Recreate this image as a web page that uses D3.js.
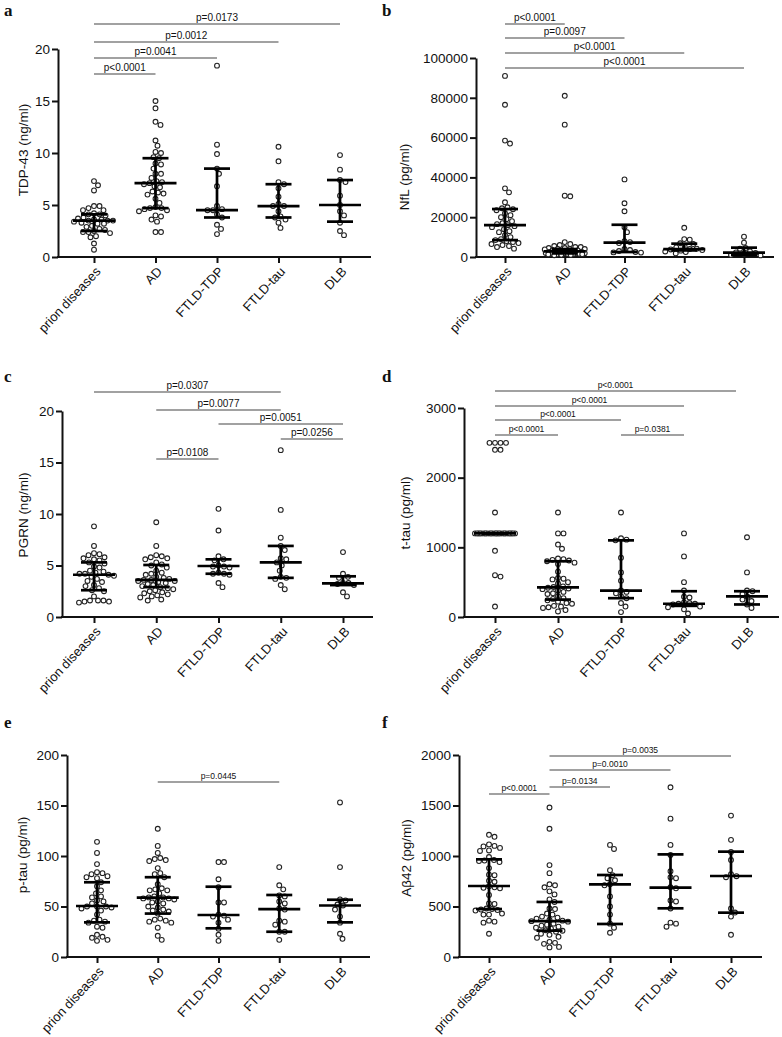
<!DOCTYPE html>
<html>
<head>
<meta charset="utf-8">
<script src="https://cdn.jsdelivr.net/npm/d3@7"></script>
<style>
  body { margin: 0; background: #fff; }
  svg { display: block; }
  text { font-family: "Liberation Sans", Arial, sans-serif; fill: #111; }
</style>
</head>
<body>
<svg id="chart" width="782" height="1037"></svg>
<script>
// categories shared by all six panels
var categories = ["prion diseases", "AD", "FTLD-TDP", "FTLD-tau", "DLB"];

// a - TDP-43 (ng/ml)
var tdp43 = [
    [7.3, 6.9, 6.4, 4.9, 4.9, 4.7, 4.5, 4.5, 4.2, 4.1, 4.1, 4.0, 3.8, 3.7, 3.6, 3.6, 3.5, 3.5, 3.5, 3.4, 3.3, 3.2, 3.2, 3.0, 2.9, 2.7, 2.6, 2.5, 2.4, 2.4, 2.3, 2.0, 1.9, 1.3, 0.7],
    [15.0, 14.3, 13.0, 12.7, 11.2, 10.7, 10.1, 10.0, 9.6, 9.5, 9.0, 8.9, 8.5, 8.0, 8.0, 7.6, 7.3, 7.2, 7.1, 7.0, 6.8, 6.7, 6.3, 6.2, 6.1, 6.0, 5.6, 5.2, 4.8, 4.7, 4.7, 4.6, 4.5, 4.4, 4.0, 3.9, 3.6, 3.4, 2.4, 2.4],
    [18.4, 10.8, 9.9, 8.5, 8.0, 6.8, 4.9, 4.6, 4.5, 4.5, 4.1, 3.8, 3.1, 2.7, 2.2],
    [10.6, 9.2, 7.2, 7.0, 6.6, 5.8, 5.1, 4.9, 4.9, 4.4, 3.9, 3.8, 3.6, 3.3, 2.8],
    [9.8, 8.4, 7.4, 7.2, 5.9, 5.0, 4.4, 4.0, 3.3, 2.5, 2.1]
];
var tdp43Median = [3.5, 7.1, 4.5, 4.9, 5.0];
var tdp43Q1 = [2.5, 4.7, 3.8, 3.8, 3.4];
var tdp43Q3 = [4.1, 9.5, 8.5, 7.0, 7.4];
var tdp43Ticks = [0, 5, 10, 15, 20];
var tdp43Pairs = [[0, 1], [0, 2], [0, 3], [0, 4]];
var tdp43PLabels = ["p<0.0001", "p=0.0041", "p=0.0012", "p=0.0173"];

// b - NfL (pg/ml)
var nfl = [
    [91000, 76500, 58500, 57000, 34500, 32500, 27500, 25000, 24500, 24000, 23500, 22000, 21000, 20000, 19000, 18000, 17000, 16500, 16000, 15500, 15000, 14000, 13000, 12500, 11000, 10000, 9000, 8500, 8000, 7500, 7000, 6500, 6000, 5500, 5000, 4200],
    [81000, 66500, 30500, 30800, 7500, 6500, 6000, 5500, 5000, 5000, 4500, 4500, 4000, 4000, 4000, 3800, 3500, 3300, 3200, 3000, 2800, 2600, 2500, 2400, 2200, 2000, 2000, 1900, 1800, 1800, 1700, 1600, 1500, 1500, 1400, 1300, 1200, 1100, 1000, 900],
    [39000, 27000, 23000, 15000, 12500, 8000, 7500, 7000, 4000, 3500, 3000, 2500, 2300, 2200],
    [14700, 9000, 8700, 6900, 6500, 5200, 4800, 4200, 4000, 3800, 3500, 3200, 2800, 2500, 1800],
    [10200, 7200, 4500, 4200, 2800, 2300, 2000, 1500, 1000, 800]
];
var nflMedian = [16000, 2800, 7200, 4000, 2200];
var nflQ1 = [8500, 1800, 2500, 3300, 1000];
var nflQ3 = [24100, 4000, 16200, 6700, 4700];
var nflTicks = [0, 20000, 40000, 60000, 80000, 100000];
var nflPairs = [[0, 1], [0, 2], [0, 3], [0, 4]];
var nflPLabels = ["p<0.0001", "p=0.0097", "p<0.0001", "p<0.0001"];

// c - PGRN (ng/ml)
var pgrn = [
    [8.8, 6.9, 6.2, 6.1, 6.0, 5.8, 5.7, 5.6, 5.5, 5.3, 5.2, 4.9, 4.8, 4.5, 4.4, 4.3, 4.2, 4.2, 4.1, 4.0, 3.9, 3.7, 3.5, 3.4, 3.1, 3.0, 2.8, 2.6, 2.5, 2.0, 1.6, 1.6, 1.6, 1.5, 1.5, 1.4],
    [9.2, 6.9, 6.0, 5.9, 5.8, 5.7, 5.6, 5.3, 5.1, 5.0, 4.8, 4.5, 4.3, 4.2, 4.1, 3.9, 3.8, 3.7, 3.6, 3.6, 3.5, 3.5, 3.4, 3.3, 3.2, 3.1, 3.0, 2.9, 2.8, 2.7, 2.6, 2.5, 2.4, 2.3, 2.2, 2.1, 2.0, 1.9, 1.7, 1.6],
    [10.5, 8.4, 5.9, 5.6, 5.5, 5.0, 4.9, 4.9, 4.8, 4.3, 4.2, 4.2, 4.1, 3.3, 2.9],
    [16.2, 10.4, 7.7, 6.9, 6.5, 5.7, 5.6, 5.3, 5.0, 4.5, 3.9, 3.8, 3.7, 3.1, 2.7],
    [6.3, 4.2, 3.9, 3.8, 3.3, 3.3, 3.2, 3.1, 2.4, 2.0]
];
var pgrnMedian = [4.1, 3.6, 4.95, 5.3, 3.27];
var pgrnQ1 = [2.6, 2.9, 4.2, 3.8, 3.1];
var pgrnQ3 = [5.3, 5.05, 5.6, 6.9, 3.95];
var pgrnTicks = [0, 5, 10, 15, 20];
var pgrnPairs = [[0, 3], [1, 3], [2, 4], [3, 4], [1, 2]];
var pgrnPLabels = ["p=0.0307", "p=0.0077", "p=0.0051", "p=0.0256", "p=0.0108"];

// d - t-tau (pg/ml)
var ttau = [
    [2500, 2500, 2500, 2500, 2400, 2400, 1500, 1200, 1200, 1200, 1200, 1200, 1200, 1200, 1200, 1200, 1200, 1200, 1200, 1200, 1200, 1200, 1200, 1200, 1200, 1200, 1200, 1200, 1200, 1200, 1200, 950, 600, 580, 150],
    [1500, 1200, 1200, 1040, 980, 840, 830, 820, 810, 800, 780, 760, 650, 560, 550, 540, 500, 480, 440, 430, 420, 410, 400, 380, 360, 340, 330, 300, 270, 260, 240, 220, 200, 190, 160, 150, 140, 130, 100, 80],
    [1500, 1130, 1110, 1100, 850, 640, 520, 380, 360, 340, 300, 270, 200, 150, 70],
    [1200, 870, 500, 380, 290, 280, 210, 200, 190, 190, 180, 150, 140, 110, 50],
    [1145, 640, 380, 370, 330, 290, 250, 230, 180, 130]
];
var ttauMedian = [1200, 425, 380, 190, 295];
var ttauQ1 = [1200, 250, 270, 160, 180];
var ttauQ3 = [1200, 800, 1100, 370, 370];
var ttauTicks = [0, 1000, 2000, 3000];
var ttauPairs = [[0, 4], [0, 3], [0, 2], [0, 1], [2, 3]];
var ttauPLabels = ["p<0.0001", "p<0.0001", "p<0.0001", "p<0.0001", "p=0.0381"];

// e - p-tau (pg/ml)
var ptau = [
    [114, 103, 92, 84, 83, 82, 80, 79, 78, 74, 70, 66, 63, 60, 59, 56, 55, 53, 50, 50, 50, 49, 48, 46, 42, 37, 36, 35, 34, 30, 29, 22, 20, 19, 17, 16],
    [127, 110, 103, 98, 97, 96, 95, 88, 83, 82, 79, 72, 68, 67, 66, 66, 63, 60, 59, 59, 58, 58, 57, 55, 54, 53, 50, 49, 47, 46, 45, 43, 38, 37, 36, 35, 34, 29, 21, 17],
    [94, 94, 77, 69, 54, 54, 42, 41, 40, 37, 34, 28, 22, 16],
    [89, 71, 67, 61, 60, 55, 53, 48, 47, 36, 35, 32, 25, 25, 17],
    [153, 89, 57, 56, 52, 51, 47, 40, 34, 23, 18]
];
var ptauMedian = [50.5, 58.7, 41.6, 47.5, 51];
var ptauQ1 = [34.3, 43, 28.4, 25, 34.3];
var ptauQ3 = [74, 79, 69.6, 61.4, 56.7];
var ptauTicks = [0, 50, 100, 150, 200];
var ptauPairs = [[1, 3]];
var ptauPLabels = ["p=0.0445"];

// f - Abeta42 (pg/ml)
var ab42 = [
    [1210, 1190, 1115, 1100, 1095, 1080, 1055, 1050, 990, 960, 955, 950, 940, 880, 815, 810, 755, 745, 700, 690, 685, 680, 615, 530, 525, 480, 475, 470, 465, 460, 430, 420, 420, 360, 350, 340, 230],
    [1480, 1270, 910, 830, 720, 710, 690, 650, 620, 570, 545, 480, 475, 430, 420, 400, 390, 380, 370, 360, 355, 350, 330, 320, 310, 300, 290, 280, 265, 260, 250, 230, 220, 200, 190, 150, 140, 130, 100, 95],
    [1110, 1070, 860, 810, 780, 760, 720, 710, 600, 500, 420, 330, 290, 240],
    [1680, 1370, 1110, 1010, 850, 790, 780, 690, 680, 560, 550, 480, 340, 330, 300],
    [1400, 1160, 1040, 960, 820, 800, 790, 480, 440, 400, 220]
];
var ab42Median = [703, 356, 719, 686, 802];
var ab42Q1 = [475, 261, 327, 482, 439];
var ab42Q3 = [967, 545, 812, 1016, 1043];
var ab42Ticks = [0, 500, 1000, 1500, 2000];
var ab42Pairs = [[0, 1], [1, 2], [1, 3], [1, 4]];
var ab42PLabels = ["p<0.0001", "p=0.0134", "p=0.0010", "p=0.0035"];

// layout of the six panels (pixels); pend trims a bracket's right end
var panels = [
    { letter: "a", lx: 4, ly: 16, left: 58, right: 371, top: 49, bottom: 257, cat: [94, 340],
      title: "TDP-43 (ng/ml)", tx: 23, ty: 150, values: tdp43, med: tdp43Median, q1: tdp43Q1, q3: tdp43Q3,
      ticks: tdp43Ticks, pairs: tdp43Pairs, plabels: tdp43PLabels, py: [74, 58, 42, 24], pend: [0, 0, 0, 0], pfont: 10 },
    { letter: "b", lx: 382, ly: 16, left: 476, right: 774, top: 58, bottom: 257, cat: [505, 744],
      title: "NfL (pg/ml)", tx: 404, ty: 177, values: nfl, med: nflMedian, q1: nflQ1, q3: nflQ3,
      ticks: nflTicks, pairs: nflPairs, plabels: nflPLabels, py: [24, 38, 53, 68], pend: [0, 0, 0, 0], pfont: 10 },
    { letter: "c", lx: 4, ly: 382, left: 62, right: 373, top: 411, bottom: 617, cat: [94, 343],
      title: "PGRN (ng/ml)", tx: 23, ty: 515, values: pgrn, med: pgrnMedian, q1: pgrnQ1, q3: pgrnQ3,
      ticks: pgrnTicks, pairs: pgrnPairs, plabels: pgrnPLabels, py: [392, 410, 424, 439, 459], pend: [0, 0, 0, 0, 0], pfont: 10 },
    { letter: "d", lx: 382, ly: 382, left: 464, right: 779, top: 408, bottom: 617, cat: [495, 747],
      title: "t-tau (pg/ml)", tx: 405, ty: 513, values: ttau, med: ttauMedian, q1: ttauQ1, q3: ttauQ3,
      ticks: ttauTicks, pairs: ttauPairs, plabels: ttauPLabels, py: [391, 406, 420, 435, 435], pend: [11, 0, 0, 0, 0], pfont: 8.5 },
    { letter: "e", lx: 4, ly: 728, left: 67, right: 370, top: 755, bottom: 957, cat: [97, 340],
      title: "p-tau (pg/ml)", tx: 22, ty: 855, values: ptau, med: ptauMedian, q1: ptauQ1, q3: ptauQ3,
      ticks: ptauTicks, pairs: ptauPairs, plabels: ptauPLabels, py: [782], pend: [0], pfont: 8.5 },
    { letter: "f", lx: 382, ly: 728, left: 459, right: 762, top: 755, bottom: 957, cat: [489, 731],
      title: "A\u03B242 (pg/ml)", tx: 406, ty: 858, values: ab42, med: ab42Median, q1: ab42Q1, q3: ab42Q3,
      ticks: ab42Ticks, pairs: ab42Pairs, plabels: ab42PLabels, py: [794, 787, 770, 756], pend: [0, 0, 0, 0], pfont: 8.5 }
];

var dotR = 2.4,
    dotGap = 5.5,
    swarmHalf = 20,
    medHalf = 21,
    capHalf = 13;

// deterministic beeswarm: each dot takes the free offset closest to the centre
function swarm(ys) {
    var order = ys.map(function (d, i) { return i; }).sort(function (a, b) { return ys[a] - ys[b]; });
    var placed = [], xs = new Array(ys.length);
    var cands = [0];
    for (var s = 0.5; s <= swarmHalf; s += 0.5) { cands.push(s, -s); }
    order.forEach(function (i) {
        var y = ys[i];
        var near = placed.filter(function (p) { return Math.abs(p.y - y) < dotGap; });
        var best = 0, bestScore = -1;
        for (var k = 0; k < cands.length; k++) {
            var cx = cands[k], m = Infinity;
            near.forEach(function (p) { m = Math.min(m, Math.hypot(p.x - cx, p.y - y)); });
            if (m >= dotGap) { best = cx; break; }
            if (m > bestScore) { bestScore = m; best = cx; }
        }
        xs[i] = best;
        placed.push({ x: best, y: y });
    });
    return xs;
}

var svg = d3.select("#chart");
svg.append("rect").attr("width", 782).attr("height", 1037).attr("fill", "#fff");

panels.forEach(function (p) {
    var g = svg.append("g");
    var x = d3.scalePoint().domain(categories).range(p.cat);
    var y = d3.scaleLinear().domain([0, p.ticks[p.ticks.length - 1]]).range([p.bottom, p.top]);

    // panel letter
    g.append("text")
        .attr("x", p.lx).attr("y", p.ly)
        .style("font-family", "'Liberation Serif', 'Times New Roman', serif")
        .style("font-weight", "bold")
        .style("font-size", "17px")
        .text(p.letter);

    // y axis
    var ya = g.append("g")
        .attr("transform", "translate(" + p.left + ",0)")
        .call(d3.axisLeft(y).tickValues(p.ticks).tickSize(6).tickSizeOuter(0).tickPadding(2).tickFormat(d3.format("d")));
    ya.select(".domain").attr("stroke", "#111").attr("stroke-width", 2);
    ya.selectAll(".tick line").attr("stroke", "#111").attr("stroke-width", 2);
    ya.selectAll(".tick text").style("font-size", "13.5px").attr("fill", "#111");

    // y title
    g.append("text")
        .attr("transform", "translate(" + p.tx + "," + p.ty + ") rotate(-90)")
        .attr("text-anchor", "middle")
        .attr("dy", "0.35em")
        .style("font-size", "13.5px")
        .text(p.title);

    // x axis
    g.append("line")
        .attr("x1", p.left - 1).attr("x2", p.right)
        .attr("y1", p.bottom).attr("y2", p.bottom)
        .attr("stroke", "#111").attr("stroke-width", 2);
    var xa = g.append("g")
        .attr("transform", "translate(0," + p.bottom + ")")
        .call(d3.axisBottom(x).tickSize(6).tickSizeOuter(0).tickFormat(""));
    xa.select(".domain").remove();
    xa.selectAll(".tick line").attr("stroke", "#111").attr("stroke-width", 2);

    g.selectAll(".xlab")
        .data(categories)
        .enter()
        .append("text")
        .attr("transform", function (d) {
            return "translate(" + (x(d) + 4) + "," + (p.bottom + 12) + ") rotate(-47)";
        })
        .attr("text-anchor", "end")
        .attr("dy", "0.35em")
        .style("font-size", "13px")
        .text(function (d) { return d; });

    // significance brackets
    p.pairs.forEach(function (pr, k) {
        var x1 = x(categories[pr[0]]), x2 = x(categories[pr[1]]) - p.pend[k];
        g.append("line")
            .attr("x1", x1).attr("x2", x2)
            .attr("y1", p.py[k]).attr("y2", p.py[k])
            .attr("stroke", "#444").attr("stroke-width", 1.2);
        g.append("text")
            .attr("x", (x1 + x2) / 2).attr("y", p.py[k] - 3)
            .attr("text-anchor", "middle")
            .style("font-size", p.pfont + "px")
            .attr("fill", "#222")
            .text(p.plabels[k]);
    });

    // dots
    p.values.forEach(function (vals, i) {
        var cx0 = x(categories[i]);
        var ys = vals.map(function (v) { return y(v); });
        var offs = swarm(ys);
        g.append("g")
            .selectAll("circle")
            .data(vals)
            .enter()
            .append("circle")
            .attr("cx", function (d, j) { return cx0 + offs[j]; })
            .attr("cy", function (d) { return y(d); })
            .attr("r", dotR)
            .attr("fill", "#fff")
            .attr("stroke", "#222")
            .attr("stroke-width", 1.1);
    });

    // median and interquartile range
    categories.forEach(function (c, i) {
        var cx0 = x(c);
        var eg = g.append("g").attr("stroke", "#000").attr("stroke-width", 2.7);
        eg.append("line").attr("x1", cx0).attr("x2", cx0).attr("y1", y(p.q1[i])).attr("y2", y(p.q3[i]));
        eg.append("line").attr("x1", cx0 - capHalf).attr("x2", cx0 + capHalf).attr("y1", y(p.q1[i])).attr("y2", y(p.q1[i]));
        eg.append("line").attr("x1", cx0 - capHalf).attr("x2", cx0 + capHalf).attr("y1", y(p.q3[i])).attr("y2", y(p.q3[i]));
        eg.append("line").attr("x1", cx0 - medHalf).attr("x2", cx0 + medHalf).attr("y1", y(p.med[i])).attr("y2", y(p.med[i]));
    });
});
</script>
</body>
</html>
